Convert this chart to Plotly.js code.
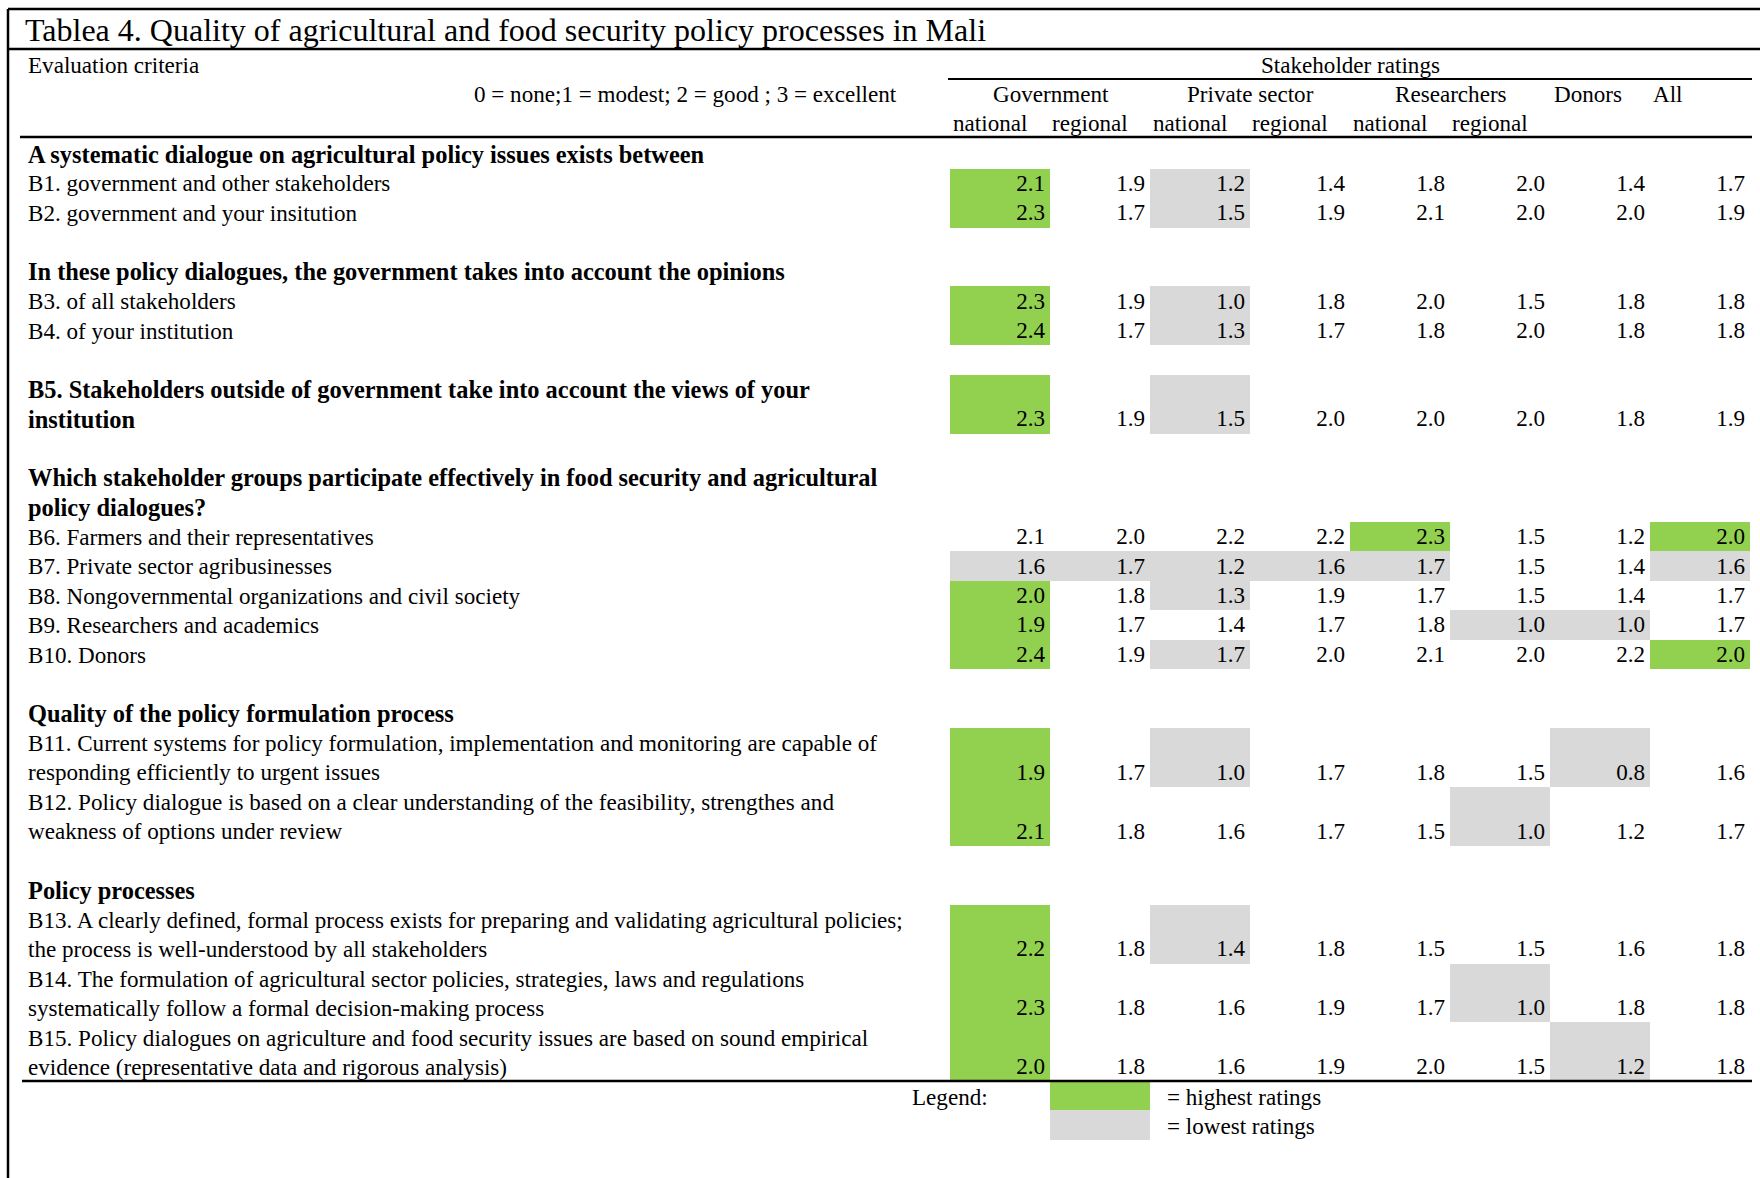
<!DOCTYPE html>
<html><head><meta charset="utf-8">
<script src="https://cdn.plot.ly/plotly-3.0.1.min.js"></script>
<style>html,body{margin:0;padding:0;background:#fff}</style>
</head><body><div id="chart" style="width:1760px;height:1178px"></div>
<script>
// ---------------- DATA ----------------
const tableTitle = "Tablea 4. Quality of agricultural and food security policy processes in Mali";
const criteriaHeader = "Evaluation criteria";
const scaleNote = "0 = none;1 = modest; 2 = good ; 3 = excellent";
const ratingsHeader = "Stakeholder ratings";
const groupLabels = ["Government", "Private sector", "Researchers", "Donors", "All"];
const subLabels = ["national", "regional", "national", "regional", "national", "regional"];

const sectionHeads = [
  ["A systematic dialogue on agricultural policy issues exists between"],
  ["In these policy dialogues, the government takes into account the opinions"],
  [],
  ["Which stakeholder groups participate effectively in food security and agricultural", "policy dialogues?"],
  ["Quality of the policy formulation process"],
  ["Policy processes"]
];
const sectionRows = [[0, 1], [2, 3], [4], [5, 6, 7, 8, 9], [10, 11], [12, 13, 14]];

const criteria = [
  ["B1. government and other stakeholders"],
  ["B2. government and your insitution"],
  ["B3. of all stakeholders"],
  ["B4. of your institution"],
  ["B5. Stakeholders outside of government take into account the views of your", "institution"],
  ["B6. Farmers and their representatives"],
  ["B7. Private sector agribusinesses"],
  ["B8. Nongovernmental organizations and civil society"],
  ["B9. Researchers and academics"],
  ["B10. Donors"],
  ["B11. Current systems for policy formulation, implementation and monitoring are capable of", "responding efficiently to urgent issues"],
  ["B12. Policy dialogue is based on a clear understanding of the feasibility, strengthes and", "weakness of options under review"],
  ["B13. A clearly defined, formal process exists for preparing and validating agricultural policies;", "the process is well-understood by all stakeholders"],
  ["B14. The formulation of agricultural sector policies, strategies, laws and regulations", "systematically follow a formal decision-making process"],
  ["B15. Policy dialogues on agriculture and food security issues are based on sound empirical", "evidence (representative data and rigorous analysis)"]
];
const boldCriteria = [4];

const govNational   = [2.1, 2.3, 2.3, 2.4, 2.3, 2.1, 1.6, 2.0, 1.9, 2.4, 1.9, 2.1, 2.2, 2.3, 2.0];
const govRegional   = [1.9, 1.7, 1.9, 1.7, 1.9, 2.0, 1.7, 1.8, 1.7, 1.9, 1.7, 1.8, 1.8, 1.8, 1.8];
const privNational  = [1.2, 1.5, 1.0, 1.3, 1.5, 2.2, 1.2, 1.3, 1.4, 1.7, 1.0, 1.6, 1.4, 1.6, 1.6];
const privRegional  = [1.4, 1.9, 1.8, 1.7, 2.0, 2.2, 1.6, 1.9, 1.7, 2.0, 1.7, 1.7, 1.8, 1.9, 1.9];
const resNational   = [1.8, 2.1, 2.0, 1.8, 2.0, 2.3, 1.7, 1.7, 1.8, 2.1, 1.8, 1.5, 1.5, 1.7, 2.0];
const resRegional   = [2.0, 2.0, 1.5, 2.0, 2.0, 1.5, 1.5, 1.5, 1.0, 2.0, 1.5, 1.0, 1.5, 1.0, 1.5];
const donorRatings  = [1.4, 2.0, 1.8, 1.8, 1.8, 1.2, 1.4, 1.4, 1.0, 2.2, 0.8, 1.2, 1.6, 1.8, 1.2];
const allRatings    = [1.7, 1.9, 1.8, 1.8, 1.9, 2.0, 1.6, 1.7, 1.7, 2.0, 1.6, 1.7, 1.8, 1.8, 1.8];

// column indices per criterion that are marked highest / lowest
const highestCells = [[0], [0], [0], [0], [0], [4, 7], [], [0], [0], [0, 7], [0], [0], [0], [0], [0]];
const lowestCells  = [[2], [2], [2], [2], [2], [], [0, 1, 2, 3, 4, 7], [2], [5, 6], [2], [2, 6], [5], [2], [5], [6]];

const legendLabel = "Legend:";
const legendHigh = "= highest ratings";
const legendLow = "= lowest ratings";

// ---------------- LAYOUT / STYLE ----------------
const W = 1760, H = 1178;
const FONT = "Liberation Serif, Times New Roman, serif";
const GREEN = "#92D050", GRAY = "#D9D9D9";
const colLeft = 950, colW = 100, nCols = 8;
const lineY0 = 154, pitch = 29.45;
const textX = 26;
const bodySize = 23.1;
const boldSize = 24.4;
const titleSize = 32;

const columns = [govNational, govRegional, privNational, privRegional, resNational, resRegional, donorRatings, allRatings];

// compute line positions
const ann = [];
const rowStart = [];
let line = 0;
sectionRows.forEach((rows, s) => {
  sectionHeads[s].forEach(t => {
    ann.push({x: textX, y: lineY0 + line * pitch, text: "<b>" + t + "</b>", xanchor: "left", size: boldSize});
    line++;
  });
  rows.forEach(r => {
    rowStart[r] = line;
    criteria[r].forEach(t => {
      const isBold = boldCriteria.includes(r);
      ann.push({x: textX, y: lineY0 + line * pitch, text: isBold ? "<b>" + t + "</b>" : t,
                xanchor: "left", size: isBold ? boldSize : bodySize});
      line++;
    });
  });
  line++; // blank line between blocks
});
const nLines = line - 1;

// heatmap grid for shading
const xEdges = [];
for (let c = 0; c <= nCols; c++) xEdges.push(colLeft + c * colW);
const yEdges = [];
for (let l = 0; l <= nLines; l++) yEdges.push(lineY0 - pitch / 2 + l * pitch);
const z = [];
for (let l = 0; l < nLines; l++) z.push(new Array(nCols).fill(null));
criteria.forEach((lines, r) => {
  for (let k = 0; k < lines.length; k++) {
    const l = rowStart[r] + k;
    highestCells[r].forEach(c => { z[l][c] = 1; });
    lowestCells[r].forEach(c => { z[l][c] = 2; });
  }
});

// value text positions
const vx = [], vy = [], vt = [];
criteria.forEach((lines, r) => {
  const yl = lineY0 + (rowStart[r] + lines.length - 1) * pitch + 1.5;
  columns.forEach((col, c) => {
    vx.push(colLeft + (c + 1) * colW - 5);
    vy.push(yl);
    vt.push(col[r].toFixed(1));
  });
});

const traces = [
  {
    type: "heatmap", x: xEdges, y: yEdges, z: z, zmin: 1, zmax: 2,
    colorscale: [[0, GREEN], [0.5, GREEN], [0.5, GRAY], [1, GRAY]],
    showscale: false, hoverinfo: "skip", zsmooth: false
  },
  {
    type: "scatter", mode: "text", x: vx, y: vy, text: vt,
    textposition: "middle left", cliponaxis: false, hoverinfo: "skip",
    textfont: {family: FONT, size: bodySize, color: "#000"}
  }
];

// header annotations
const hdrY1 = 65, hdrY2 = 94, hdrY3 = 123;
ann.push({x: 23, y: 30, text: tableTitle, xanchor: "left", size: titleSize});
ann.push({x: textX, y: hdrY1, text: criteriaHeader, xanchor: "left"});
ann.push({x: 899, y: hdrY2, text: scaleNote, xanchor: "right"});
ann.push({x: 1350, y: hdrY1, text: ratingsHeader, xanchor: "center"});
const groupCenters = [1051, 1250, 1451, 1588, 1668];
groupLabels.forEach((g, i) => ann.push({x: groupCenters[i], y: hdrY2, text: g, xanchor: "center"}));
subLabels.forEach((s, i) => ann.push({x: colLeft + colW * (i + 0.5) - 10, y: hdrY3, text: s, xanchor: "center"}));

// legend
const legY1 = 1097, legY2 = 1126;
ann.push({x: 990, y: legY1, text: legendLabel, xanchor: "right"});
ann.push({x: 1165, y: legY1, text: legendHigh, xanchor: "left"});
ann.push({x: 1165, y: legY2, text: legendLow, xanchor: "left"});

const annotations = ann.map(a => ({
  x: a.x, y: a.y, xref: "x", yref: "y", text: a.text, showarrow: false,
  xanchor: a.xanchor, yanchor: "middle",
  font: {family: FONT, size: a.size || bodySize, color: "#000"}
}));

function hline(x0, x1, y, w) {
  return {type: "line", xref: "x", yref: "y", x0: x0, x1: x1, y0: y, y1: y, line: {color: "#000", width: w}};
}
const shapes = [
  {type: "line", xref: "x", yref: "y", x0: 8, x1: 8, y0: 9, y1: H, line: {color: "#000", width: 2.5}},
  hline(8, W, 9, 2.5),
  hline(8, W, 49, 2.5),
  hline(948, 1752, 79, 2),
  hline(20, 1752, 137, 2.5),
  hline(22, 1752, 1081, 2.5),
  {type: "rect", xref: "x", yref: "y", x0: colLeft + colW, x1: colLeft + 2 * colW, y0: 1081, y1: 1110,
   fillcolor: GREEN, line: {width: 0}, layer: "below"},
  {type: "rect", xref: "x", yref: "y", x0: colLeft + colW, x1: colLeft + 2 * colW, y0: 1110, y1: 1140,
   fillcolor: GRAY, line: {width: 0}, layer: "below"}
];

const layout = {
  width: W, height: H, margin: {l: 0, r: 0, t: 0, b: 0, pad: 0},
  paper_bgcolor: "#fff", plot_bgcolor: "#fff", showlegend: false,
  xaxis: {range: [0, W], visible: false, fixedrange: true},
  yaxis: {range: [H, 0], visible: false, fixedrange: true},
  annotations: annotations, shapes: shapes
};

Plotly.newPlot("chart", traces, layout, {staticPlot: true, displayModeBar: false});
</script>
</body></html>
